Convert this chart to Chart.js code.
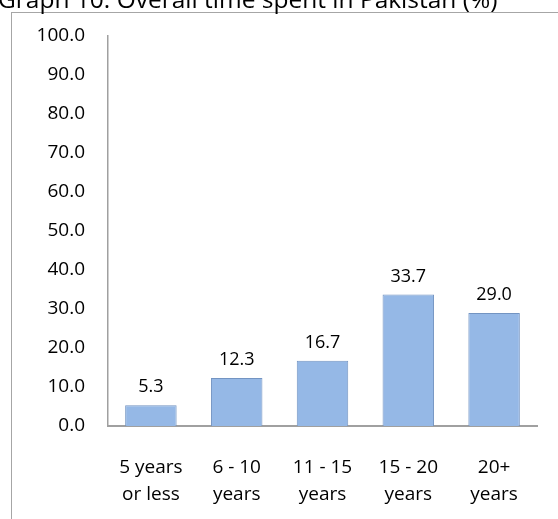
<!DOCTYPE html>
<html>
<head>
<meta charset="utf-8">
<script src="https://cdn.jsdelivr.net/npm/chart.js@4"></script>
<style>
  html, body { margin: 0; padding: 0; background: #fff; overflow: hidden; }
  #frame { position: absolute; left: 11px; top: 12px; width: 600px; height: 560px; border: 1px solid #a6a6a6; }
  #wrap { position: absolute; left: 0; top: 0; width: 558px; height: 519px; }
</style>
</head>
<body>
<div id="frame"></div>
<div id="wrap"><canvas id="chart" width="558" height="519"></canvas></div>
<script>
const TITLE = 'Graph 10: Overall time spent in Pakistan (%)';
const categories = [['5 years', 'or less'], ['6 - 10', 'years'], ['11 - 15', 'years'], ['15 - 20', 'years'], ['20+', 'years']];
const shares = [5.3, 12.3, 16.7, 33.7, 29.0];
const yMin = 0;
const yMax = 100;
const yStep = 10;

const FONT = '"Open Sans", Lato, sans-serif';

// title sits at the very top, clipped like in the source image
const titlePlugin = {
  id: 'titleText',
  afterDraw(chart) {
    const c = chart.ctx;
    c.save();
    c.font = '24.5px ' + FONT;
    c.fillStyle = '#000';
    c.textBaseline = 'alphabetic';
    c.textAlign = 'left';
    c.fillText(TITLE, -2, 8);
    c.restore();
  }
};

// value labels above each bar
const valueLabels = {
  id: 'valueLabels',
  afterDatasetsDraw(chart) {
    const c = chart.ctx;
    const meta = chart.getDatasetMeta(0);
    c.save();
    c.font = '18px ' + FONT;
    c.fillStyle = '#000';
    c.textAlign = 'center';
    c.textBaseline = 'middle';
    meta.data.forEach((bar, i) => {
      c.fillText(shares[i].toFixed(1), bar.x, bar.y - 18);
    });
    c.restore();
  }
};

const ctx = document.getElementById('chart').getContext('2d');

const chart = new Chart(ctx, {
  type: 'bar',
  data: {
    labels: categories,
    datasets: [{
      data: shares,
      backgroundColor: function(context) {
        const el = context.element;
        if (!el || el.width === undefined) return '#95b8e6';
        const x0 = el.x - el.width / 2;
        const g = context.chart.ctx.createLinearGradient(x0, 0, x0 + el.width, 0);
        g.addColorStop(0, '#7fa2d2');
        g.addColorStop(0.12, '#96baea');
        g.addColorStop(0.88, '#96baea');
        g.addColorStop(1, '#7898c6');
        return g;
      },
      borderColor: '#7394c2',
      borderWidth: 1,
      categoryPercentage: 1,
      barPercentage: 0.6
    }]
  },
  options: {
    responsive: false,
    animation: false,
    layout: { padding: { top: 36, right: 21, left: 0, bottom: 0 } },
    plugins: {
      legend: { display: false },
      tooltip: { enabled: false }
    },
    scales: {
      x: {
        grid: { display: false },
        border: { display: true, color: '#a0a0a0', width: 2 },
        ticks: {
          color: '#000',
          padding: 20,
          maxRotation: 0,
          font: { family: FONT, size: 19, lineHeight: 1.42 }
        },
        afterFit(scale) { scale.height = 93; }
      },
      y: {
        min: yMin,
        max: yMax,
        grid: { display: false },
        border: { display: true, color: '#a0a0a0', width: 1.5 },
        ticks: {
          stepSize: yStep,
          color: '#000',
          padding: 15,
          font: { family: FONT, size: 19 },
          callback: v => v.toFixed(1)
        },
        afterFit(scale) { scale.width = 108; }
      }
    }
  },
  plugins: [titlePlugin, valueLabels]
});
</script>
</body>
</html>
